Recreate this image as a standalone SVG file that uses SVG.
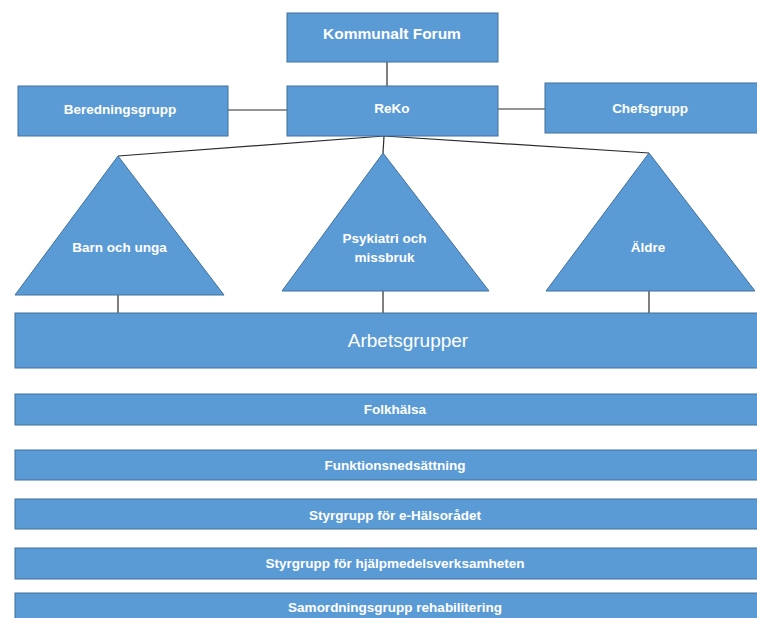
<svg xmlns="http://www.w3.org/2000/svg" width="757" height="618" viewBox="0 0 757 618">
  <style>
    .box { fill: #5B9BD5; stroke: #41719C; stroke-width: 1; }
    .lbl { fill: #ffffff; font-family: "Liberation Sans", Arial, sans-serif; font-weight: bold; font-size: 13.5px; text-anchor: middle; }
    .big { font-size: 15.5px; }
    .reg { font-weight: normal; font-size: 19px; }
    .conn line { stroke: #2b2b2b; stroke-width: 1.2; }
  </style>
  <rect width="757" height="618" fill="#ffffff"/>
  <g id="connectors" class="conn">
    <line x1="387" y1="62" x2="387" y2="86"/>
    <line x1="228" y1="110" x2="287" y2="110"/>
    <line x1="498" y1="109" x2="545" y2="109"/>
    <line x1="384" y1="136" x2="118" y2="156"/>
    <line x1="384" y1="136" x2="383" y2="153"/>
    <line x1="384" y1="136" x2="649" y2="153"/>
    <line x1="118" y1="295" x2="118" y2="313"/>
    <line x1="383" y1="291" x2="383" y2="313"/>
    <line x1="649" y1="291" x2="649" y2="313"/>
  </g>
  <g id="kommunalt-forum">
    <rect class="box" x="287" y="13" width="211" height="49"/>
    <text class="lbl big" x="392" y="38.5">Kommunalt Forum</text>
  </g>
  <g id="reko">
    <rect class="box" x="287" y="86" width="211" height="50"/>
    <text class="lbl" x="392" y="113">ReKo</text>
  </g>
  <g id="beredningsgrupp">
    <rect class="box" x="18" y="86" width="210" height="50"/>
    <text class="lbl" x="120" y="114">Beredningsgrupp</text>
  </g>
  <g id="chefsgrupp">
    <rect class="box" x="545" y="83" width="214" height="50"/>
    <text class="lbl" x="650" y="113">Chefsgrupp</text>
  </g>
  <g id="barn-och-unga">
    <polygon class="box" points="118,156 224,295 15,295"/>
    <text class="lbl" x="119.5" y="252">Barn och unga</text>
  </g>
  <g id="psykiatri">
    <polygon class="box" points="383,153 489,291 282,291"/>
    <text class="lbl" x="384.5" y="243">Psykiatri och</text>
    <text class="lbl" x="384.5" y="262">missbruk</text>
  </g>
  <g id="aldre">
    <polygon class="box" points="649,153 755,291 546,291"/>
    <text class="lbl" x="648" y="252">Äldre</text>
  </g>
  <g id="arbetsgrupper">
    <rect class="box" x="15" y="313" width="760" height="55"/>
    <text class="lbl reg" x="408" y="347">Arbetsgrupper</text>
  </g>
  <g id="folkhalsa">
    <rect class="box" x="15" y="394" width="760" height="31"/>
    <text class="lbl" x="395" y="414">Folkhälsa</text>
  </g>
  <g id="funktionsnedsattning">
    <rect class="box" x="15" y="450" width="760" height="30"/>
    <text class="lbl" x="395" y="470">Funktionsnedsättning</text>
  </g>
  <g id="e-halsoradet">
    <rect class="box" x="15" y="499" width="760" height="30"/>
    <text class="lbl" x="395" y="519.5">Styrgrupp för e-Hälsorådet</text>
  </g>
  <g id="hjalpmedel">
    <rect class="box" x="15" y="548" width="760" height="31"/>
    <text class="lbl" x="395" y="568">Styrgrupp för hjälpmedelsverksamheten</text>
  </g>
  <g id="samordningsgrupp">
    <rect class="box" x="15" y="593" width="760" height="40"/>
    <text class="lbl" x="395" y="612">Samordningsgrupp rehabilitering</text>
  </g>
</svg>
